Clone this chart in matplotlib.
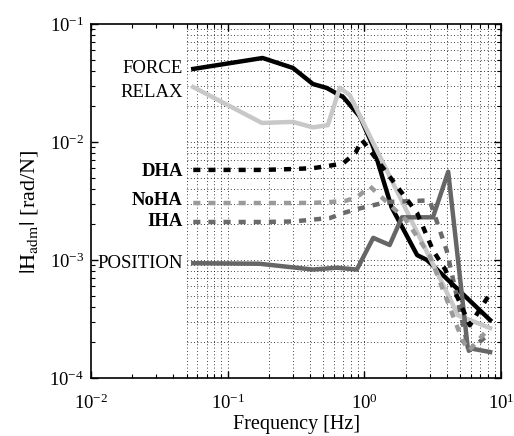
import numpy as np
import matplotlib
matplotlib.use('Agg')
import matplotlib.pyplot as plt

plt.rcParams['font.family'] = ['Liberation Serif', 'DejaVu Serif']
plt.rcParams['mathtext.fontset'] = 'stix'

# admittance magnitude vs frequency for each condition
f_force = [0.056, 0.18, 0.30, 0.42, 0.53, 0.70, 0.93, 1.16, 1.37, 1.58, 2.43, 2.87, 8.3]
h_force = [0.0416, 0.0515, 0.0424, 0.031, 0.0287, 0.024, 0.0163, 0.0091, 0.0048, 0.0028, 0.0011, 0.0010, 3.1e-4]

f_relax = [0.056, 0.178, 0.30, 0.42, 0.54, 0.66, 0.78, 4.84, 8.3]
h_relax = [0.0292, 0.0145, 0.0148, 0.0133, 0.0139, 0.0288, 0.025, 3.4e-4, 2.65e-4]

f_dha = [0.056, 0.18, 0.30, 0.42, 0.56, 0.70, 0.86, 0.96, 2.43, 3.18, 3.9, 5.9, 8.3]
h_dha = [0.0058, 0.0058, 0.0059, 0.006, 0.0063, 0.0066, 0.0081, 0.0104, 0.0025, 0.0012, 8.3e-4, 2.8e-4, 5.2e-4]

f_noha = [0.056, 0.18, 0.30, 0.42, 0.56, 0.72, 0.88, 1.1, 2.0, 3.0, 5.2, 5.8, 8.3]
h_noha = [0.00304, 0.00304, 0.00304, 0.00305, 0.0031, 0.00316, 0.0034, 0.0042, 0.0022, 0.0011, 2.1e-4, 1.7e-4, 2.7e-4]

f_iha = [0.056, 0.18, 0.30, 0.42, 0.56, 0.70, 0.88, 1.46, 3.0, 4.0, 5.8, 8.3]
h_iha = [0.0021, 0.0021, 0.00212, 0.0022, 0.00227, 0.0025, 0.0027, 0.0031, 0.0032, 0.0012, 1.7e-4, 2.4e-4]

f_pos = [0.056, 0.17, 0.42, 0.63, 0.88, 1.16, 1.53, 1.88, 3.17, 4.1, 5.7, 8.3]
h_pos = [9.4e-4, 9.3e-4, 8.3e-4, 8.6e-4, 8.3e-4, 0.00154, 0.00134, 0.0023, 0.0023, 0.0056, 1.8e-4, 1.66e-4]

fig = plt.figure(figsize=(5.14, 4.36), dpi=100)
ax = fig.add_axes([0.177, 0.133, 0.798, 0.812])
ax.set_xscale('log')
ax.set_yscale('log')
ax.set_xlim(1e-2, 10)
ax.set_ylim(1e-4, 1e-1)

# dotted grid only over the measured band
gx = np.concatenate([np.arange(5, 10) * 0.01, np.arange(1, 10) * 0.1, np.arange(1, 11) * 1.0])
gy = np.concatenate([np.arange(1, 10) * 10.0 ** e for e in (-4, -3, -2)])
ax.vlines(gx, 1e-4, 1e-1, colors='k', linestyles=(0, (1, 3)), lw=0.6, zorder=1)
ax.hlines(gy, 0.05, 10, colors='k', linestyles=(0, (1, 3)), lw=0.6, zorder=1)

lw = 3.2
ax.plot(f_force, h_force, color='black', lw=lw, zorder=3)
ax.plot(f_relax, h_relax, color='#c8c8c8', lw=lw, zorder=3)
ax.plot(f_pos, h_pos, color='#666666', lw=lw, zorder=3)
ax.plot(f_iha, h_iha, color='#6a6a6a', lw=lw, dashes=(1.6, 1.8), zorder=4)
ax.plot(f_noha, h_noha, color='#9a9a9a', lw=lw, dashes=(1.6, 1.8), zorder=4)
ax.plot(f_dha, h_dha, color='black', lw=lw, dashes=(1.6, 1.8), zorder=5)

fs = 13.5
ax.text(0.047, 0.0416, 'FORCE', ha='right', va='center', fontsize=fs)
ax.text(0.047, 0.0265, 'RELAX', ha='right', va='center', fontsize=fs)
ax.text(0.047, 0.0056, 'DHA', ha='right', va='center', fontsize=fs, fontweight='bold')
ax.text(0.047, 0.00322, 'NoHA', ha='right', va='center', fontsize=fs, fontweight='bold')
ax.text(0.047, 0.0021, 'IHA', ha='right', va='center', fontsize=fs, fontweight='bold')
ax.text(0.047, 9.4e-4, 'POSITION', ha='right', va='center', fontsize=fs)

ax.tick_params(which='both', direction='in', top=True, right=True, labelsize=13.5)
ax.tick_params(axis='x', which='major', pad=11)
ax.tick_params(axis='y', which='major', pad=5)
ax.tick_params(which='major', length=5, width=1)
ax.tick_params(which='minor', length=3, width=0.8)
for s in ax.spines.values():
    s.set_linewidth(1.2)

ax.set_xlabel('Frequency [Hz]', fontsize=14.5, labelpad=2)
ax.set_ylabel(r'$|\mathrm{H}_{\mathrm{adm}}|$ [rad/N]', fontsize=16)
ax.yaxis.set_label_coords(-0.125, 0.47)

fig.savefig('out.png', dpi=100)
